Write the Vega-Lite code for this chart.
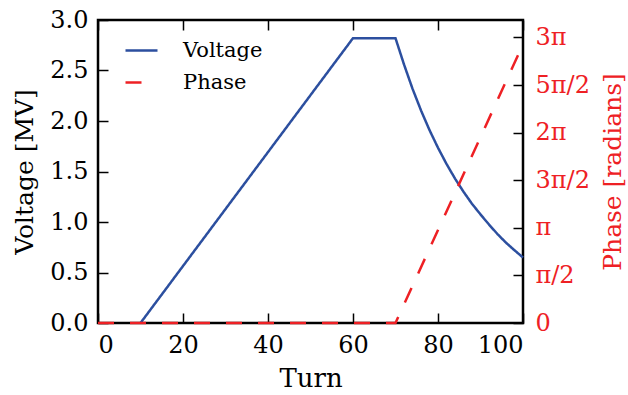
{
  "$schema": "https://vega.github.io/schema/vega-lite/v6.json",
  "width": 425,
  "height": 303,
  "autosize": {"type": "none"},
  "padding": {"left": 98, "top": 20, "right": 105, "bottom": 72},
  "background": "white",
  "config": {
    "view": {"stroke": "black", "strokeWidth": 2.5},
    "font": "DejaVu Serif",
    "axis": {
      "grid": false,
      "domain": false,
      "tickSize": -10,
      "tickWidth": 1.5,
      "tickColor": "black",
      "labelFont": "DejaVu Serif",
      "labelFontSize": 24,
      "labelColor": "black",
      "labelPadding": 20,
      "titleFont": "DejaVu Serif",
      "titleFontSize": 25,
      "titleFontWeight": "normal",
      "titleColor": "black"
    },
    "legend": {
      "title": null,
      "orient": "none",
      "legendX": 26,
      "legendY": 13,
      "padding": 0,
      "symbolType": "stroke",
      "symbolSize": 1024,
      "symbolStrokeWidth": 2.5,
      "labelFont": "DejaVu Serif",
      "labelFontSize": 21,
      "labelColor": "black",
      "labelOffset": 24,
      "rowPadding": 4
    }
  },
  "data": {
    "values": [
      {"series": "Voltage", "turn": 10, "value": 0},
      {"series": "Voltage", "turn": 60, "value": 2.82},
      {"series": "Voltage", "turn": 70, "value": 2.82},
      {"series": "Voltage", "turn": 72, "value": 2.56},
      {"series": "Voltage", "turn": 74, "value": 2.32},
      {"series": "Voltage", "turn": 76, "value": 2.105},
      {"series": "Voltage", "turn": 78, "value": 1.91},
      {"series": "Voltage", "turn": 80, "value": 1.735},
      {"series": "Voltage", "turn": 82, "value": 1.575},
      {"series": "Voltage", "turn": 84, "value": 1.43},
      {"series": "Voltage", "turn": 86, "value": 1.3},
      {"series": "Voltage", "turn": 88, "value": 1.18},
      {"series": "Voltage", "turn": 90, "value": 1.075},
      {"series": "Voltage", "turn": 92, "value": 0.975},
      {"series": "Voltage", "turn": 94, "value": 0.88},
      {"series": "Voltage", "turn": 96, "value": 0.795},
      {"series": "Voltage", "turn": 98, "value": 0.72},
      {"series": "Voltage", "turn": 100, "value": 0.648},
      {"series": "Phase", "turn": 0, "value": 0},
      {"series": "Phase", "turn": 70, "value": 0},
      {"series": "Phase", "turn": 100, "value": 9.2}
    ]
  },
  "encoding": {
    "color": {
      "field": "series", "type": "nominal",
      "scale": {"domain": ["Voltage", "Phase"], "range": ["#2c4f9f", "#ee2024"]}
    },
    "strokeDash": {
      "field": "series", "type": "nominal",
      "scale": {"domain": ["Voltage", "Phase"], "range": [[1, 0], [16, 16]]}
    }
  },
  "layer": [
    {
      "transform": [{"filter": "datum.series === 'Voltage'"}],
      "mark": {"type": "line", "strokeWidth": 2.5},
      "encoding": {
        "x": {
          "field": "turn", "type": "quantitative",
          "scale": {"domain": [0, 100], "nice": false},
          "axis": {"values": [0, 20, 40, 60, 80, 100], "title": "Turn", "orient": "bottom", "titlePadding": 8, "titleFontSize": 26}
        },
        "y": {
          "field": "value", "type": "quantitative",
          "scale": {"domain": [0, 3], "nice": false},
          "axis": {"values": [0, 0.5, 1, 1.5, 2, 2.5, 3], "format": ".1f", "title": "Voltage [MV]", "titlePadding": 12}
        }
      }
    },
    {
      "transform": [{"filter": "datum.series === 'Phase'"}],
      "mark": {"type": "line", "strokeWidth": 2.5},
      "encoding": {
        "x": {
          "field": "turn", "type": "quantitative",
          "scale": {"domain": [0, 100], "nice": false},
          "axis": {"values": [0, 20, 40, 60, 80, 100], "orient": "top", "labels": false, "title": null}
        },
        "y": {
          "field": "value", "type": "quantitative",
          "scale": {"domain": [0, 10], "nice": false},
          "axis": {
            "orient": "right",
            "values": [0, 1.5707963, 3.1415927, 4.712389, 6.2831853, 7.8539816, 9.424778],
            "labelExpr": "['0','π/2','π','3π/2','2π','5π/2','3π'][round(datum.value / (PI / 2))]",
            "labelColor": "#ee2024",
            "labelAlign": "left",
            "labelPadding": 22,
            "title": "Phase [radians]",
            "titleColor": "#ee2024",
            "titleAngle": 270,
            "titleBaseline": "top",
            "titlePadding": 11
          }
        }
      }
    }
  ],
  "resolve": {"scale": {"y": "independent"}, "axis": {"x": "independent"}}
}
